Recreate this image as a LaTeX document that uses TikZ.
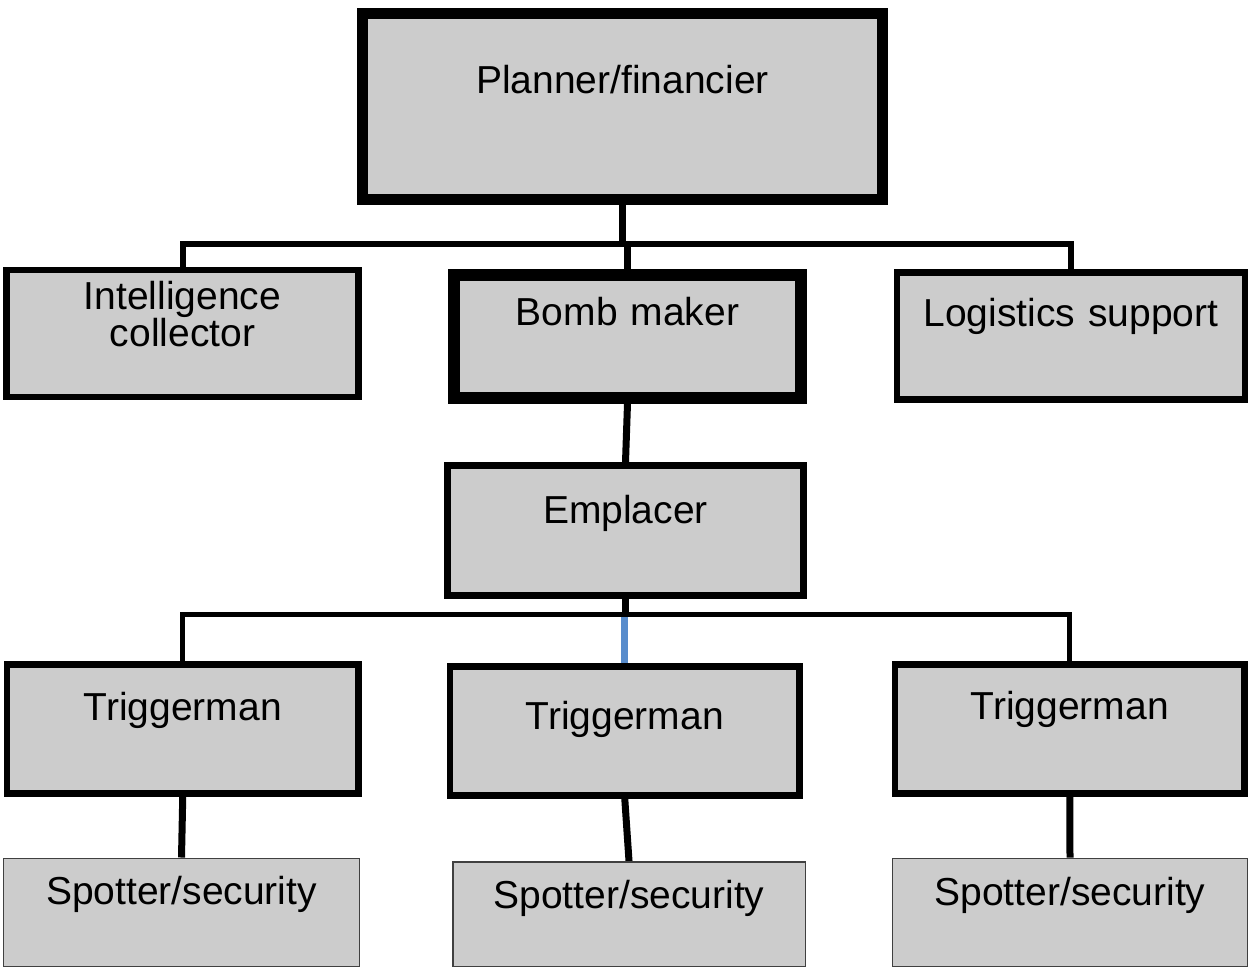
\documentclass[tikz,border=0pt]{standalone}
\usepackage{fontspec}
\setmainfont{Liberation Sans}
\usepackage{tikz}
\usetikzlibrary{arrows}
\definecolor{boxgray}{gray}{0.8}
\definecolor{linkblue}{RGB}{88,140,204}

\begin{document}
\begin{tikzpicture}[x=1pt,y=-1pt]
    \tikzstyle{role} = [draw,fill=boxgray,inner sep=0pt,anchor=north,align=center,line width=6.5pt,font=\fontsize{39}{32}\selectfont]
\tikzstyle{heavy} = [role,line width=11.5pt]
\tikzstyle{spot} = [role,line width=1.5pt,draw=black!75]
\tikzstyle{link} = [line width=7pt]
\tikzstyle{bar} = [line width=6pt]

\pgfdeclarelayer{background}
\pgfsetlayers{background,main}

\useasboundingbox (0,0) rectangle (1249,967);

\node[heavy,text width=520pt,text height=80.5pt,text depth=105.5pt] (plan) at (622.5,7.5) {Planner/financier};

\node[role,text width=352pt,text height=39.5pt,text depth=87.5pt] (intel) at (182.5,266.5) {Intelligence\\collector};
\node[heavy,text width=347pt,text height=51pt,text depth=72pt] (bomb) at (627.5,269) {Bomb maker};
\node[role,text width=348pt,text height=54pt,text depth=73pt] (logi) at (1071,269) {Logistics support};

\node[role,text width=356pt,text height=58pt,text depth=72pt] (empl) at (625.5,462) {Emplacer};

\node[role,text width=351.5pt,text height=56pt,text depth=73pt] (trigL) at (182.75,661) {Triggerman};
\node[role,text width=349.5pt,text height=63pt,text depth=66pt] (trigM) at (624.75,663) {Triggerman};
\node[role,text width=349.5pt,text height=55pt,text depth=74pt] (trigR) at (1069.75,661) {Triggerman};

\node[spot,text width=356pt,text height=46.5pt,text depth=61.5pt] (spotL) at (181.5,857.5) {Spotter/security};
\node[spot,text width=352.5pt,text height=47pt,text depth=57.5pt] (spotM) at (629,861) {Spotter/security};
\node[spot,text width=355pt,text height=47.5pt,text depth=60.5pt] (spotR) at (1070,857.5) {Spotter/security};

\coordinate (bar1) at (0,244);
\coordinate (bar2) at (0,614.5);

\begin{pgfonlayer}{background}
\draw[link] (plan.south) -- (plan.south |- bar1);
\draw[bar] (intel.north) -- (intel.north |- bar1) -- (logi.north |- bar1) -- (logi.north);
\draw[link] (bomb.north) -- (bomb.north |- bar1);
\draw[link] (bomb.south) -- (empl.north);
\draw[link] (empl.south) -- (empl.south |- bar2);
\draw[link,color=linkblue] (trigM.north |- bar2) -- (trigM.north);
\draw[bar,line width=5pt] (trigL.north) -- (trigL.north |- bar2) -- (trigR.north |- bar2) -- (trigR.north);
\draw[link] (trigL.south) -- (spotL.north);
\draw[link] (trigM.south) -- (spotM.north);
\draw[link] (trigR.south) -- (spotR.north);
\end{pgfonlayer}

\end{tikzpicture}
\end{document}
